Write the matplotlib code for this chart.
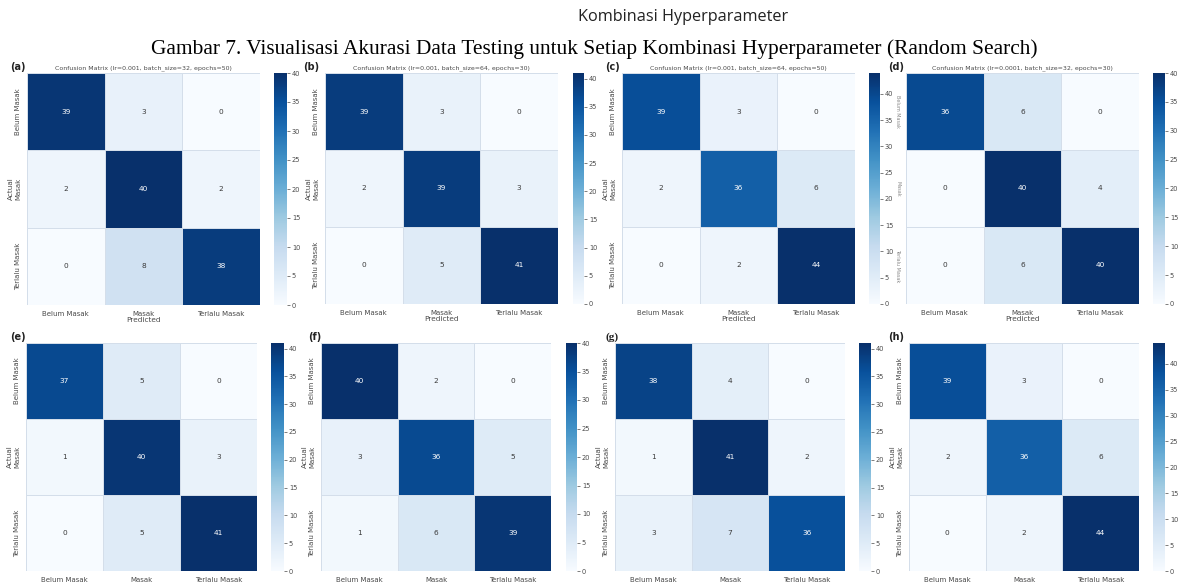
import matplotlib
matplotlib.use("Agg")
import matplotlib.pyplot as plt
import numpy as np

W, H = 1181, 586

# class names
classes = ["Belum Masak", "Masak", "Terlalu Masak"]

# confusion matrices, (a)..(h)
cm_a = [[39, 3, 0], [2, 40, 2], [0, 8, 38]]
cm_b = [[39, 3, 0], [2, 39, 3], [0, 5, 41]]
cm_c = [[39, 3, 0], [2, 36, 6], [0, 2, 44]]
cm_d = [[36, 6, 0], [0, 40, 4], [0, 6, 40]]
cm_e = [[37, 5, 0], [1, 40, 3], [0, 5, 41]]
cm_f = [[40, 2, 0], [3, 36, 5], [1, 6, 39]]
cm_g = [[38, 4, 0], [1, 41, 2], [3, 7, 36]]
cm_h = [[39, 3, 0], [2, 36, 6], [0, 2, 44]]

matrices = [cm_a, cm_b, cm_c, cm_d, cm_e, cm_f, cm_g, cm_h]
letters = ["(a)", "(b)", "(c)", "(d)", "(e)", "(f)", "(g)", "(h)"]
titles = [
    "Confusion Matrix (lr=0.001, batch_size=32, epochs=50)",
    "Confusion Matrix (lr=0.001, batch_size=64, epochs=30)",
    "Confusion Matrix (lr=0.001, batch_size=64, epochs=50)",
    "Confusion Matrix (lr=0.0001, batch_size=32, epochs=30)",
    None, None, None, None,
]

# pixel layout: heatmap left/right, colorbar left/right, top/bottom, letter x
layout = [
    (27, 260, 274, 287, 73, 305, 10),
    (325, 558, 573, 584, 73, 304, 303),
    (622, 855, 869, 880, 73, 304, 605),
    (906, 1139, 1153, 1165, 73, 304, 888),
    (26, 257, 271, 284, 343, 571, 10),
    (321, 551, 566, 577, 343, 571, 308),
    (615, 845, 859, 871, 343, 571, 605),
    (909, 1139, 1153, 1165, 343, 571, 888),
]

txt = "#4a4a4a"
fig = plt.figure(figsize=(W / 100, H / 100), dpi=100)


def px_axes(x0, x1, y0, y1):
    return fig.add_axes([x0 / W, 1 - y1 / H, (x1 - x0) / W, (y1 - y0) / H])


fig.text(683 / W, 1 - 17 / H, "Kombinasi Hyperparameter", family="Open Sans",
         fontsize=11.7, color="#222222", ha="center", va="center")
fig.text(594 / W, 1 - 49 / H,
         "Gambar 7. Visualisasi Akurasi Data Testing untuk Setiap Kombinasi Hyperparameter (Random Search)",
         family="Liberation Serif", fontsize=15.4, color="black", ha="center", va="center")

cmap = plt.get_cmap("Blues")

for i, mat in enumerate(matrices):
    m = np.array(mat)
    hx0, hx1, cx0, cx1, top, bot, lx = layout[i]
    ax = px_axes(hx0, hx1, top, bot)
    vmin, vmax = m.min(), m.max()
    mesh = ax.pcolormesh(m, cmap=cmap, vmin=vmin, vmax=vmax,
                         edgecolors="#d4deea", linewidth=0.6)
    ax.set_xlim(0, 3)
    ax.set_ylim(3, 0)
    for s in ax.spines.values():
        s.set_visible(False)
    for r in range(3):
        for c in range(3):
            rgba = cmap((m[r, c] - vmin) / (vmax - vmin))
            lum = 0.2126 * rgba[0] + 0.7152 * rgba[1] + 0.0722 * rgba[2]
            col = "white" if lum < 0.408 else "#3a3a3a"
            ax.text(c + 0.5, r + 0.5, str(m[r, c]), ha="center", va="center",
                    fontsize=5.3, color=col)
    ax.set_xticks(np.arange(3) + 0.5)
    ax.set_xticklabels(classes, fontsize=5, color=txt)
    ax.set_yticks(np.arange(3) + 0.5)
    ax.tick_params(length=0, pad=4)
    if i == 3:
        ax.set_yticklabels(classes, fontsize=3.5, color="#888888", rotation=270, va="center")
    else:
        ax.set_yticklabels(classes, fontsize=5, color=txt, rotation=90, va="center")
        ax.set_ylabel("Actual", fontsize=5.2, color=txt, labelpad=1)
    if titles[i]:
        ax.set_title(titles[i], fontsize=4.5, color=txt, pad=3)
        ax.set_xlabel("Predicted", fontsize=5.3, color=txt, labelpad=0)

    cax = px_axes(cx0, cx1, top, bot)
    cb = fig.colorbar(mesh, cax=cax)
    cb.outline.set_visible(False)
    cb.set_ticks(np.arange(0, vmax + 1, 5))
    cax.tick_params(labelsize=4.8, colors=txt, length=2, width=0.5, pad=1.5)

    fam = "Liberation Serif" if letters[i] == "(g)" else "DejaVu Sans"
    fs = 8 if letters[i] == "(g)" else 7
    fig.text(lx / W, 1 - (top - 6) / H, letters[i], fontsize=fs, fontweight="bold",
             family=fam, ha="left", va="center", color="#222222")

fig.savefig("out.png", dpi=100)
